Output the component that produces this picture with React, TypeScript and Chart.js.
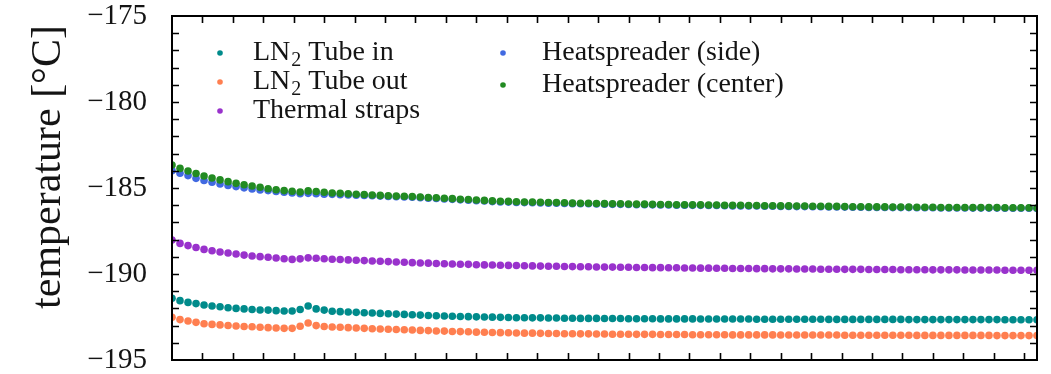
import React, { useEffect, useRef } from 'react';
import { Chart, registerables } from 'chart.js';

Chart.register(...registerables);

// ---------- data ----------
const SERIES_LABELS = ['LN₂ Tube in', 'LN₂ Tube out', 'Thermal straps', 'Heatspreader (side)', 'Heatspreader (center)'];
const SERIES_COLORS = ['#008b8b', '#ff7f50', '#9932cc', '#4169e1', '#228b22'];

const tubeIn = [
  -191.41, -191.55, -191.65, -191.72, -191.80, -191.86, -191.90, -191.96, -192.00, -192.03,
  -192.06, -192.09, -192.10, -192.13, -192.15, -192.15, -192.06, -191.86, -192.03, -192.10,
  -192.17, -192.19, -192.21, -192.23, -192.25, -192.27, -192.29, -192.31, -192.33, -192.35,
  -192.37, -192.39, -192.41, -192.43, -192.44, -192.46, -192.47, -192.48, -192.49, -192.50,
  -192.51, -192.52, -192.53, -192.54, -192.54, -192.55, -192.55, -192.56, -192.56, -192.57,
  -192.57, -192.58, -192.58, -192.58, -192.59, -192.59, -192.59, -192.60, -192.60, -192.60,
  -192.60, -192.61, -192.61, -192.61, -192.61, -192.61, -192.62, -192.62, -192.62, -192.62,
  -192.62, -192.62, -192.62, -192.63, -192.63, -192.63, -192.63, -192.63, -192.63, -192.63,
  -192.63, -192.63, -192.64, -192.64, -192.64, -192.64, -192.64, -192.64, -192.64, -192.64,
  -192.64, -192.64, -192.65, -192.65, -192.65, -192.65, -192.65, -192.65, -192.65, -192.65,
  -192.65, -192.65, -192.65, -192.65, -192.66, -192.66, -192.66, -192.66, -192.66,
];

const tubeOut = [
  -192.52, -192.65, -192.73, -192.81, -192.89, -192.93, -192.96, -192.99, -193.02, -193.05,
  -193.07, -193.10, -193.12, -193.14, -193.16, -193.16, -193.04, -192.85, -193.00, -193.05,
  -193.08, -193.10, -193.12, -193.14, -193.16, -193.18, -193.20, -193.21, -193.23, -193.24,
  -193.26, -193.28, -193.29, -193.31, -193.32, -193.34, -193.35, -193.36, -193.38, -193.39,
  -193.40, -193.41, -193.42, -193.43, -193.44, -193.44, -193.45, -193.46, -193.46, -193.47,
  -193.47, -193.48, -193.48, -193.49, -193.49, -193.50, -193.50, -193.50, -193.51, -193.51,
  -193.51, -193.52, -193.52, -193.52, -193.52, -193.53, -193.53, -193.53, -193.53, -193.53,
  -193.54, -193.54, -193.54, -193.54, -193.54, -193.54, -193.55, -193.55, -193.55, -193.55,
  -193.55, -193.55, -193.55, -193.55, -193.56, -193.56, -193.56, -193.56, -193.56, -193.56,
  -193.56, -193.56, -193.56, -193.57, -193.57, -193.57, -193.57, -193.57, -193.57, -193.57,
  -193.57, -193.57, -193.57, -193.58, -193.58, -193.58, -193.58, -193.58, -193.58,
];

const thermalStraps = [
  -188.02, -188.22, -188.35, -188.46, -188.57, -188.65, -188.72, -188.78, -188.84, -188.90,
  -188.95, -188.99, -189.03, -189.07, -189.11, -189.15, -189.12, -189.06, -189.08, -189.11,
  -189.14, -189.16, -189.18, -189.20, -189.22, -189.24, -189.26, -189.28, -189.30, -189.32,
  -189.34, -189.36, -189.37, -189.39, -189.40, -189.42, -189.43, -189.44, -189.46, -189.47,
  -189.48, -189.49, -189.50, -189.51, -189.52, -189.53, -189.54, -189.55, -189.55, -189.56,
  -189.57, -189.58, -189.58, -189.59, -189.60, -189.60, -189.61, -189.61, -189.62, -189.62,
  -189.63, -189.63, -189.64, -189.64, -189.65, -189.65, -189.66, -189.66, -189.67, -189.67,
  -189.68, -189.68, -189.68, -189.69, -189.69, -189.70, -189.70, -189.70, -189.71, -189.71,
  -189.71, -189.72, -189.72, -189.72, -189.73, -189.73, -189.73, -189.74, -189.74, -189.74,
  -189.74, -189.75, -189.75, -189.75, -189.75, -189.76, -189.76, -189.76, -189.76, -189.77,
  -189.77, -189.77, -189.77, -189.77, -189.78, -189.78, -189.78, -189.78, -189.78,
];

const heatspreaderSide = [
  -183.99, -184.14, -184.28, -184.44, -184.56, -184.67, -184.77, -184.85, -184.92, -184.99,
  -185.06, -185.11, -185.15, -185.20, -185.25, -185.29, -185.33, -185.31, -185.33, -185.36,
  -185.37, -185.39, -185.40, -185.42, -185.43, -185.45, -185.47, -185.49, -185.51, -185.52,
  -185.54, -185.56, -185.59, -185.61, -185.64, -185.66, -185.69, -185.71, -185.74, -185.76,
  -185.79, -185.81, -185.82, -185.84, -185.85, -185.86, -185.87, -185.88, -185.89, -185.90,
  -185.91, -185.92, -185.92, -185.93, -185.94, -185.95, -185.95, -185.96, -185.97, -185.97,
  -185.98, -185.99, -185.99, -186.00, -186.00, -186.01, -186.01, -186.02, -186.02, -186.03,
  -186.04, -186.04, -186.05, -186.05, -186.06, -186.06, -186.07, -186.07, -186.08, -186.08,
  -186.09, -186.09, -186.10, -186.10, -186.11, -186.12, -186.12, -186.13, -186.13, -186.13,
  -186.14, -186.14, -186.14, -186.15, -186.15, -186.15, -186.16, -186.16, -186.16, -186.16,
  -186.17, -186.17, -186.17, -186.17, -186.18, -186.18, -186.18, -186.18, -186.19,
];

const heatspreaderCenter = [
  -183.66, -183.86, -184.01, -184.16, -184.30, -184.42, -184.53, -184.63, -184.73, -184.81,
  -184.88, -184.96, -185.04, -185.10, -185.15, -185.19, -185.23, -185.17, -185.20, -185.25,
  -185.29, -185.31, -185.34, -185.36, -185.38, -185.41, -185.43, -185.45, -185.47, -185.48,
  -185.50, -185.52, -185.55, -185.57, -185.60, -185.62, -185.65, -185.67, -185.70, -185.72,
  -185.75, -185.77, -185.78, -185.80, -185.81, -185.82, -185.83, -185.84, -185.85, -185.86,
  -185.88, -185.89, -185.89, -185.90, -185.91, -185.92, -185.92, -185.93, -185.94, -185.94,
  -185.95, -185.96, -185.96, -185.97, -185.97, -185.98, -185.98, -185.99, -185.99, -186.00,
  -186.01, -186.01, -186.02, -186.02, -186.03, -186.03, -186.04, -186.04, -186.05, -186.05,
  -186.06, -186.06, -186.07, -186.07, -186.08, -186.09, -186.09, -186.10, -186.10, -186.10,
  -186.11, -186.11, -186.11, -186.12, -186.12, -186.12, -186.13, -186.13, -186.13, -186.13,
  -186.14, -186.14, -186.14, -186.14, -186.15, -186.15, -186.15, -186.15, -186.16,
];

const SERIES = [tubeIn, tubeOut, thermalStraps, heatspreaderSide, heatspreaderCenter];

const Y_TICKS = [-195, -194, -193, -192, -191, -190, -189, -188, -187, -186, -185, -184, -183, -182, -181, -180, -179, -178, -177, -176, -175];
const Y_TICK_LABELS = [-195, -190, -185, -180, -175];
const X_TICK_STEP = 3.8;
const X_TICK_COUNT = 28;
const Y_TITLE = 'temperature [°C]';

const SERIF = '"Liberation Serif", "DejaVu Serif", serif';
const INK = '#141414';

// ---------- helpers ----------
function drawSubLabel(ctx: CanvasRenderingContext2D, text: string, x: number, y: number, size: number) {
  const parts = text.split('₂');
  let cx = x;
  ctx.textAlign = 'left';
  ctx.textBaseline = 'alphabetic';
  parts.forEach((p, i) => {
    ctx.font = `${size}px ${SERIF}`;
    ctx.fillText(p, cx, y);
    cx += ctx.measureText(p).width;
    if (i < parts.length - 1) {
      ctx.font = `${Math.round(size * 0.7)}px ${SERIF}`;
      ctx.fillText('2', cx + 1, y + size * 0.2);
      cx += ctx.measureText('2').width + 1;
    }
  });
}

const framePlugin = {
  id: 'frameTicks',
  afterDatasetsDraw(chart: any) {
    const { ctx, chartArea: a, scales } = chart;
    const L = 7;
    ctx.save();
    ctx.strokeStyle = '#000';
    ctx.lineWidth = 1.6;
    ctx.beginPath();
    scales.x.ticks.forEach((t: any) => {
      const px = Math.round(scales.x.getPixelForValue(t.value)) + 0.5;
      ctx.moveTo(px, a.bottom);
      ctx.lineTo(px, a.bottom - L);
      ctx.moveTo(px, a.top);
      ctx.lineTo(px, a.top + L);
    });
    scales.y.ticks.forEach((t: any) => {
      if (t.value <= scales.y.min || t.value >= scales.y.max) return;
      const py = Math.round(scales.y.getPixelForValue(t.value)) + 0.5;
      ctx.moveTo(a.left, py);
      ctx.lineTo(a.left + L, py);
      ctx.moveTo(a.right, py);
      ctx.lineTo(a.right - L, py);
    });
    ctx.stroke();
    ctx.lineWidth = 2;
    ctx.strokeRect(a.left, a.top, a.right - a.left, a.bottom - a.top);
    ctx.restore();
  },
};

const legendPlugin = {
  id: 'innerLegend',
  afterDraw(chart: any) {
    const { ctx, chartArea: a } = chart;
    const cols = [
      { dot: a.left + 48, text: a.left + 81, rows: [a.top + 37, a.top + 66, a.top + 95] },
      { dot: a.left + 331, text: a.left + 370, rows: [a.top + 37, a.top + 69] },
    ];
    const slots = [
      [0, 0], [0, 1], [0, 2], [1, 0], [1, 1],
    ];
    ctx.save();
    chart.data.datasets.forEach((ds: any, i: number) => {
      const [c, r] = slots[i];
      const col = cols[c];
      const y = col.rows[r];
      ctx.fillStyle = ds.backgroundColor;
      ctx.beginPath();
      ctx.arc(col.dot, y, 2.8, 0, Math.PI * 2);
      ctx.fill();
      ctx.fillStyle = INK;
      drawSubLabel(ctx, ds.label, col.text, y + 7, 28);
    });
    ctx.restore();
  },
};

const titlePlugin = {
  id: 'yTitle',
  afterDraw(chart: any) {
    const { ctx, chartArea: a } = chart;
    ctx.save();
    ctx.translate(60, a.top + 151);
    ctx.rotate(-Math.PI / 2);
    ctx.font = `42px ${SERIF}`;
    ctx.fillStyle = INK;
    ctx.textAlign = 'center';
    ctx.textBaseline = 'alphabetic';
    ctx.fillText(Y_TITLE, 0, 0);
    ctx.restore();
  },
};

export default function App() {
  const ref = useRef<HTMLCanvasElement>(null);

  useEffect(() => {
    document.body.style.margin = '0';
    const canvas = ref.current;
    if (!canvas) return;
    const datasets = SERIES.map((vals, s) => ({
      label: SERIES_LABELS[s],
      data: vals.map((y, i) => ({ x: i, y })),
      backgroundColor: SERIES_COLORS[s],
      borderColor: SERIES_COLORS[s],
      pointRadius: 3.8,
      pointHoverRadius: 3.8,
      pointBorderWidth: 0,
      showLine: false,
      clip: 0,
      order: SERIES.length - 1 - s,
    }));

    const chart = new Chart(canvas, {
      type: 'scatter',
      data: { datasets },
      plugins: [framePlugin, legendPlugin, titlePlugin],
      options: {
        responsive: false,
        animation: false,
        devicePixelRatio: 1,
        layout: { padding: { top: 16, right: 14, left: 0, bottom: 0 } },
        plugins: { legend: { display: false }, tooltip: { enabled: false } },
        events: [],
        scales: {
          x: {
            type: 'linear',
            min: 0,
            max: 108,
            grid: { display: false, drawTicks: false },
            border: { display: false },
            ticks: { display: false },
            afterBuildTicks: (s: any) => {
              s.ticks = Array.from({ length: X_TICK_COUNT }, (_, k) => ({ value: (k + 1) * X_TICK_STEP }));
            },
            afterFit: (s: any) => {
              s.height = 14;
              s.paddingLeft = 0;
              s.paddingRight = 0;
            },
          },
          y: {
            type: 'linear',
            min: -195,
            max: -175,
            grid: { display: false, drawTicks: false },
            border: { display: false },
            afterBuildTicks: (s: any) => {
              s.ticks = Y_TICKS.map((v) => ({ value: v }));
            },
            ticks: {
              autoSkip: false,
              padding: 25,
              color: INK,
              font: { family: SERIF, size: 29 },
              callback: (v: any) => (Y_TICK_LABELS.includes(Number(v)) ? '\u2212' + Math.abs(Number(v)) : ''),
            },
            afterFit: (s: any) => {
              s.width = 172;
              s.paddingTop = 0;
              s.paddingBottom = 0;
            },
          },
        },
      },
    });
    return () => chart.destroy();
  }, []);

  return (
    <div style={{ width: 1051, height: 374, background: '#fff' }}>
      <canvas ref={ref} width={1051} height={374} style={{ width: 1051, height: 374, display: 'block' }} />
    </div>
  );
}
